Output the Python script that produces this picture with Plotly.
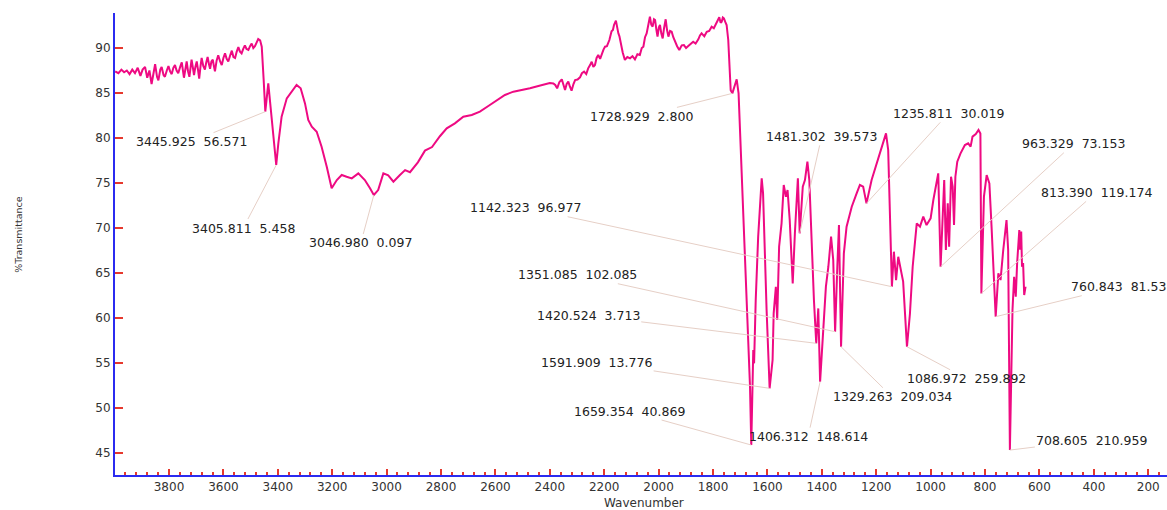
import plotly.graph_objects as go

# ---- spectrum data (wavenumber, %T), by region ----
band_4000_3460 = [
    (3998, 87.4), (3986, 87.2), (3975, 87.6), (3965, 87.3), (3955, 87.5), (3945, 87.1),
    (3935, 87.6), (3925, 87.2), (3915, 87.8), (3905, 86.9), (3897, 87.6), (3888, 87.9),
    (3880, 86.7), (3872, 87.5), (3864, 86.0), (3857, 87.2), (3851, 88.2), (3844, 86.8),
    (3839, 86.4), (3832, 87.6), (3827, 87.9), (3820, 87.0), (3815, 86.8), (3808, 87.5),
    (3802, 88.0), (3796, 87.4), (3790, 87.1), (3784, 87.8), (3778, 88.1), (3772, 87.5),
    (3766, 87.2), (3759, 87.9), (3753, 88.4), (3745, 86.7), (3740, 87.6), (3735, 88.5),
    (3730, 87.4), (3725, 86.8), (3720, 88.0), (3717, 88.7), (3712, 87.8), (3708, 87.0),
    (3703, 87.9), (3698, 88.5), (3694, 87.7), (3689, 86.6), (3684, 88.0), (3680, 88.9),
    (3674, 88.0), (3668, 87.6), (3663, 88.4), (3658, 89.0), (3653, 88.2), (3649, 87.7),
    (3644, 88.5), (3639, 88.7), (3635, 88.0), (3631, 87.4), (3625, 88.6), (3619, 89.2),
    (3612, 88.5), (3606, 88.1), (3600, 88.9), (3594, 89.4), (3588, 88.8), (3582, 88.5),
    (3575, 89.2), (3569, 89.7), (3563, 89.0), (3557, 88.9), (3551, 89.6), (3545, 90.1),
    (3539, 89.6), (3533, 89.4), (3527, 89.9), (3521, 90.3), (3515, 89.9), (3508, 89.8),
    (3502, 90.2), (3496, 90.5), (3490, 90.0), (3484, 90.2), (3478, 90.6), (3472, 91.0),
    (3465, 90.85), (3459, 90.15),
]
band_3460_2420 = [
    (3452, 86.5), (3445.925, 82.93), (3435, 86.07), (3422, 82.0), (3405.811, 77.0),
    (3398, 79.41), (3386, 82.37), (3367, 84.41), (3349, 85.15), (3331, 85.89), (3316, 85.52),
    (3300, 83.85), (3288, 82.0), (3275, 81.26), (3257, 80.7), (3239, 79.04), (3220, 76.81),
    (3202, 74.41), (3183, 75.33), (3165, 75.89), (3147, 75.7), (3128, 75.52), (3104, 76.07),
    (3080, 75.33), (3061, 74.41), (3046.98, 73.67), (3031, 74.22), (3012, 76.07), (2994, 75.85),
    (2975, 75.15), (2951, 75.89), (2932, 76.44), (2914, 76.2), (2885, 77.3), (2859, 78.6),
    (2833, 79.0), (2804, 80.2), (2779, 81.07), (2749, 81.63), (2718, 82.37), (2687, 82.56),
    (2657, 82.93), (2626, 83.56), (2595, 84.22), (2565, 84.78), (2534, 85.15), (2503, 85.33),
    (2473, 85.52), (2442, 85.78),
]
band_2420_1745 = [
    (2412, 86.0), (2400, 86.1), (2387, 86.07), (2380, 85.9), (2373, 85.52), (2365, 86.2),
    (2356, 86.52), (2350, 85.8), (2344, 85.33), (2338, 86.0), (2332, 86.26), (2326, 85.7),
    (2320, 85.26), (2313, 86.0), (2307, 86.44), (2298, 86.5), (2289, 86.74), (2282, 87.2),
    (2274, 87.37), (2266, 87.1), (2259, 87.74), (2252, 88.1), (2246, 88.48), (2240, 87.9),
    (2234, 88.11), (2228, 88.9), (2222, 89.22), (2215, 88.8), (2209, 89.41), (2203, 89.8),
    (2197, 90.15), (2190, 90.2), (2181, 90.89), (2177, 91.5), (2173, 91.85), (2168, 92.0),
    (2164, 92.56), (2157, 93.04), (2153, 92.2), (2148, 91.63), (2144, 91.3), (2140, 90.52),
    (2132, 89.5), (2124, 88.67), (2115, 89.0), (2105, 88.85), (2096, 89.1), (2087, 88.74),
    (2078, 89.3), (2069, 89.22), (2062, 90.0), (2056, 90.15), (2050, 91.2), (2044, 91.63),
    (2038, 92.7), (2032, 93.48), (2027, 92.6), (2022, 92.37), (2017, 93.2), (2013, 93.11),
    (2008, 92.0), (2004, 91.26), (1999, 92.3), (1995, 92.56), (1990, 91.6), (1985, 91.07),
    (1980, 92.2), (1974, 93.19), (1969, 92.0), (1964, 91.26), (1958, 91.9), (1952, 91.81),
    (1946, 91.2), (1940, 90.7), (1932, 90.2), (1924, 89.78), (1915, 90.3), (1907, 90.33),
    (1899, 90.0), (1891, 90.22), (1882, 90.5), (1873, 90.7), (1864, 90.5), (1854, 90.96),
    (1848, 91.4), (1842, 91.63), (1832, 91.3), (1823, 91.81), (1814, 91.9), (1805, 92.37),
    (1797, 92.2), (1789, 92.74), (1783, 93.0), (1777, 93.41), (1772, 92.8), (1768, 92.93),
    (1764, 93.4), (1760, 93.3), (1755, 92.9), (1750, 92.56), (1744, 90.89),
]
band_1745_1240 = [
    (1740, 88.7), (1735, 85.3), (1728.929, 84.96), (1713, 86.52), (1706, 84.96), (1695, 76.81),
    (1686, 69.41), (1679, 64.22), (1670, 56.44), (1664, 52.37), (1659.354, 45.89), (1652, 56.44),
    (1649, 54.96), (1643, 62.0), (1634, 69.04), (1628, 72.37), (1621, 75.52), (1616, 73.85),
    (1610, 66.81), (1603, 60.89), (1591.909, 52.19), (1581, 55.33), (1577, 60.52), (1569, 63.48),
    (1564, 59.78), (1557, 67.93), (1548, 70.52), (1540, 74.78), (1532, 73.48), (1526, 74.22),
    (1518, 70.89), (1507, 63.85), (1499, 69.41), (1488, 75.52), (1481.302, 69.41), (1470, 74.59),
    (1462, 75.33), (1453, 77.37), (1446, 75.33), (1437, 67.19), (1429, 62.0), (1420.524, 57.19),
    (1413, 61.07), (1406.312, 52.93), (1395, 58.3), (1385, 63.48), (1376, 65.7), (1366, 69.04),
    (1358, 66.44), (1351.085, 58.48), (1343, 65.7), (1337, 70.33), (1329.263, 56.81),
    (1319, 67.19), (1309, 70.15), (1290, 72.37), (1272, 73.85), (1260, 74.78), (1248, 74.6),
]
band_1240_650 = [
    (1235.811, 72.74), (1217, 75.33), (1198, 77.19), (1180, 78.85), (1164, 80.52), (1156, 78.67),
    (1150, 72.37), (1142.323, 63.48), (1135, 67.37), (1127, 64.22), (1119, 66.81), (1110, 65.5),
    (1101, 64.04), (1086.972, 56.81), (1076, 60.5), (1066, 65.7), (1051, 70.52), (1039, 70.15),
    (1027, 71.26), (1015, 70.33), (1000, 71.07), (990, 73.11), (980, 74.59), (972, 76.07),
    (963.329, 65.7), (956, 72.0), (950, 75.33), (944, 67.56), (937, 72.74), (932, 67.93),
    (925, 75.7), (919, 74.59), (914, 70.33), (909, 75.7), (902, 77.37), (890, 78.3),
    (874, 79.22), (862, 79.41), (853, 79.04), (846, 80.15), (834, 80.44), (824, 80.89),
    (817, 80.5), (813.39, 62.74), (804, 73.48), (794, 75.89), (784, 74.96), (776, 70.15),
    (767, 64.59), (760.843, 60.15), (751, 64.96), (743, 64.22), (733, 67.56), (721, 70.89),
    (715, 67.56), (708.605, 45.33), (699, 60.89), (693, 64.59), (687, 62.37), (682, 66.07),
    (674, 69.78), (671, 67.6), (667, 69.6), (664, 65.7), (660, 66.1), (656, 62.56), (651, 63.48),
]

# ---- peak labels ----
peak_wn = [3445.925, 3405.811, 3046.980, 1728.929, 1481.302, 1235.811, 1142.323, 1351.085,
           1420.524, 1591.909, 1659.354, 1406.312, 1329.263, 1086.972, 963.329, 813.390,
           760.843, 708.605]
peak_t = [82.93, 77.0, 73.67, 84.96, 69.41, 72.74, 63.48, 58.48,
          57.19, 52.19, 45.89, 52.93, 56.81, 56.81, 65.7, 62.74,
          60.15, 45.33]
peak_second = ["56.571", "5.458", "0.097", "2.800", "39.573", "30.019", "96.977", "102.085",
               "3.713", "13.776", "40.869", "148.614", "209.034", "259.892", "73.153", "119.174",
               "81.53", "210.959"]

# axis ticks
x_ticks = [3800, 3600, 3400, 3200, 3000, 2800, 2600, 2400, 2200, 2000, 1800, 1600, 1400,
           1200, 1000, 800, 600, 400, 200]
y_ticks = [45, 50, 55, 60, 65, 70, 75, 80, 85, 90]

# label offsets (pixels) from the marked point (layout only)
label_dx = [-74, -33, -13, -91, 22, 82, -366, -258, -228, -173, -122, -12, 51, 60, 133, 115, 123, 82]
label_dy = [30, 63, 48, 23, -97, -90, -79, -57, -28, -26, -34, 55, 50, 32, -123, -101, -30, -10]

spectrum = band_4000_3460 + band_3460_2420 + band_2420_1745 + band_1745_1240 + band_1240_650
wavenumber = [p[0] for p in spectrum]
transmittance = [p[1] for p in spectrum]

LINE = "#EE0A82"
AXBLUE = "#2B2BF0"
TICKRED = "#E6392E"
FONT = "DejaVu Sans"

fig = go.Figure()
fig.add_trace(go.Scatter(x=wavenumber, y=transmittance, mode="lines",
                         line=dict(color=LINE, width=2), hoverinfo="skip"))

annotations = []
for w, t, s, dx, dy in zip(peak_wn, peak_t, peak_second, label_dx, label_dy):
    annotations.append(dict(
        x=w, y=t, xref="x", yref="y",
        text=f"{w:.3f}\u00a0\u00a0{s}",
        showarrow=True, arrowhead=0, arrowwidth=1, arrowcolor="#E6CFC6",
        ax=dx, ay=dy, standoff=0,
        font=dict(family=FONT, size=12.5, color="#222222"),
    ))

annotations.append(dict(text="%Transmittance", xref="paper", yref="paper",
                        x=-0.0913, y=0.522, xanchor="center", yanchor="middle",
                        showarrow=False, textangle=-90,
                        font=dict(family=FONT, size=9.5, color="#333333")))
annotations.append(dict(text="Wavenumber", xref="paper", yref="paper",
                        x=0.503, y=0, yshift=-28, xanchor="center", yanchor="middle",
                        showarrow=False,
                        font=dict(family=FONT, size=12, color="#333333")))

fig.update_layout(
    width=1167, height=510,
    margin=dict(l=115, r=0, t=13, b=35, autoexpand=False),
    paper_bgcolor="white", plot_bgcolor="white",
    showlegend=False,
    annotations=annotations,
    xaxis=dict(range=[3998.5, 131], tickmode="array", tickvals=x_ticks,
               automargin=False,
               ticks="inside", ticklen=6, tickwidth=2, tickcolor=TICKRED,
               minor=dict(dtick=40, tick0=0, ticks="inside", ticklen=3, tickwidth=2,
                          tickcolor=TICKRED, showgrid=False),
               showline=True, linecolor=AXBLUE, linewidth=2,
               showgrid=False, zeroline=False,
               tickfont=dict(family=FONT, size=12, color="#333333")),
    yaxis=dict(range=[42.56, 93.89], tickmode="array", tickvals=y_ticks,
               automargin=False,
               ticks="inside", ticklen=8, tickwidth=2, tickcolor=TICKRED,
               showline=True, linecolor=AXBLUE, linewidth=2,
               showgrid=False, zeroline=False,
               tickfont=dict(family=FONT, size=12, color="#333333")),
)

fig.write_html("out.html",
               config={"displayModeBar": False},
               post_script="document.body.style.margin='0px';document.body.style.overflow='hidden';")
